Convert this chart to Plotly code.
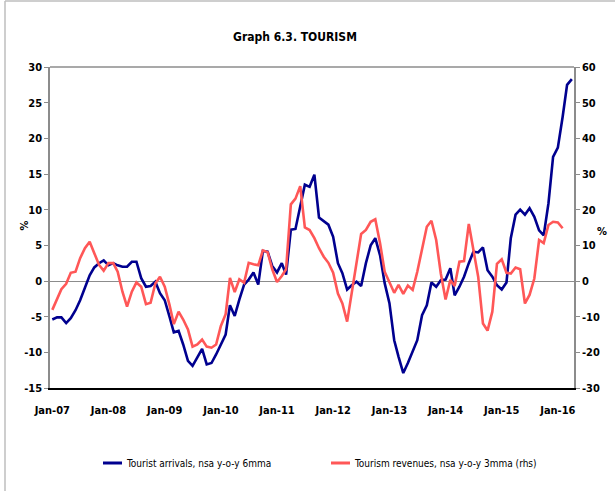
import plotly.graph_objects as go
import pandas as pd

# Monthly dates Jan-07 .. Apr-16
dates = pd.date_range("2007-01-01", "2016-04-01", freq="MS")

arrivals = [
    -5.4, -5.1, -5.1, -5.9, -5.2, -4.1, -2.7, -0.8, 0.8, 1.9, 2.5, 2.9,
    2.2, 2.5, 2.2, 2.0, 2.0, 2.7, 2.7, 0.4, -0.8, -0.7, -0.1, -1.7,
    -2.7, -5.0, -7.2, -7.0, -8.9, -11.2, -11.9, -10.7, -9.5, -11.7, -11.5, -10.3,
    -8.9, -7.5, -3.4, -4.9, -2.6, -0.5, 0.2, 1.2, -0.5, 4.2, 4.1, 2.1,
    1.2, 2.5, 0.9, 7.2, 7.3, 10.5, 13.5, 13.2, 14.9, 8.9, 8.4, 7.9,
    6.2, 2.5, 1.1, -1.2, -0.6, -0.1, -0.7, 2.5, 5.0, 6.0, 3.6, -0.3,
    -3.1, -8.3, -10.6, -12.9, -11.5, -9.9, -8.3, -4.8, -3.4, -0.2, -0.8, 0.1,
    0.2, 1.8, -2.0, -0.8, 0.6, 2.5, 4.1, 4.0, 4.7, 1.5, 0.6, -0.6,
    -1.2, -0.2, 6.0, 9.3, 10.0, 9.3, 10.2, 9.0, 7.1, 6.4, 10.9, 17.4,
    18.7, 23.0, 27.5, 28.3,
]

revenues = [
    -8.1, -4.9, -2.3, -0.8, 2.3, 2.6, 6.4, 9.2, 11.0, 7.8, 4.5, 2.9,
    5.0, 5.0, 2.6, -3.0, -7.2, -3.0, -0.4, -1.6, -6.5, -6.1, -0.7, 1.2,
    -1.6, -6.7, -12.1, -8.6, -10.8, -13.6, -18.4, -17.8, -16.4, -18.4, -18.7, -17.8,
    -12.6, -9.3, 0.9, -3.1, 0.5, -0.5, 5.1, 4.7, 4.4, 8.6, 8.1, 3.3,
    -0.3, 1.4, 3.3, 21.5, 23.1, 26.6, 15.0, 14.3, 12.0, 9.2, 6.8, 5.1,
    2.3, -3.5, -6.3, -11.4, -3.0, 5.0, 13.2, 14.3, 16.6, 17.3, 10.6, 2.6,
    -0.5, -3.3, -1.1, -3.6, -1.3, -2.5, 2.6, 8.7, 15.2, 16.9, 11.5, 2.1,
    -5.2, 0.3, -1.4, 5.4, 5.6, 16.0, 8.7, 1.2, -11.9, -13.9, -8.6, 4.8,
    6.1, 2.3, 2.1, 3.8, 3.3, -6.3, -3.9, 0.7, 11.5, 10.6, 15.7, 16.6,
    16.4, 14.8,
]

year_ticks = pd.date_range("2007-01-01", "2016-01-01", freq="YS")
year_labels = ["Jan-07", "Jan-08", "Jan-09", "Jan-10", "Jan-11",
               "Jan-12", "Jan-13", "Jan-14", "Jan-15", "Jan-16"]

left_ticks = [-15, -10, -5, 0, 5, 10, 15, 20, 25, 30]
right_ticks = [-30, -20, -10, 0, 10, 20, 30, 40, 50, 60]

series_names = ["Tourist arrivals, nsa y-o-y 6mma",
                "Tourism revenues, nsa y-o-y 3mma (rhs)"]
series_colors = ["#00008F", "#FF5757"]

FONT = "DejaVu Sans Condensed"

fig = go.Figure()
fig.add_trace(go.Scatter(
    x=dates[:len(arrivals)], y=arrivals, mode="lines", name=series_names[0],
    line=dict(color=series_colors[0], width=2.6), yaxis="y", showlegend=False,
))
fig.add_trace(go.Scatter(
    x=dates[:len(revenues)], y=revenues, mode="lines", name=series_names[1],
    line=dict(color=series_colors[1], width=2.6), yaxis="y2", showlegend=False,
))

PW, PH = 524, 321  # plot area size in px
L, B = 50, 388     # plot-area left / bottom in page px


def px(xp):
    return (xp - L) / PW


def py(yp):
    return (B - yp) / PH


fig.update_layout(
    width=615, height=491,
    margin=dict(l=50, r=41, t=67, b=103, autoexpand=False),
    paper_bgcolor="white", plot_bgcolor="white",
    font=dict(family=FONT, size=11, color="black"),
    title=dict(text="<b>Graph 6.3. TOURISM</b>", x=295 / 615, xanchor="center",
               y=1 - 37 / 491, yanchor="middle", yref="container",
               font=dict(family=FONT, size=12, color="black")),
    xaxis=dict(
        type="date", automargin=False,
        range=["2006-12-17", "2016-04-15"],
        tickvals=list(year_ticks), ticktext=[f"<b>{t}</b>" for t in year_labels],
        showgrid=False, zeroline=False,
        showline=True, linecolor="black", linewidth=1.5,
        ticks="", tickfont=dict(size=11), ticklabelstandoff=11,
    ),
    yaxis=dict(
        range=[-15, 30], tickvals=left_ticks, automargin=False,
        ticktext=[f"<b>{v}</b>" for v in left_ticks],
        showgrid=False, zeroline=True, zerolinecolor="#8C8C8C", zerolinewidth=1,
        showline=True, linecolor="#8C8C8C", linewidth=1.5,
        ticks="outside", ticklen=4, tickcolor="#8C8C8C",
        tickfont=dict(size=11),
    ),
    yaxis2=dict(
        range=[-30, 60], tickvals=right_ticks, automargin=False,
        ticktext=[f"<b>{v}</b>" for v in right_ticks],
        overlaying="y", side="right",
        showgrid=False, zeroline=False,
        showline=True, linecolor="#8C8C8C", linewidth=1.5,
        ticks="outside", ticklen=4, tickcolor="#8C8C8C",
        tickfont=dict(size=11),
    ),
)

# plot-area top border (gray)
fig.add_shape(type="line", xref="paper", yref="paper", x0=0, x1=1, y0=1, y1=1,
              line=dict(color="#8C8C8C", width=1.5))
# outer chart frame (left and top edges)
fig.add_shape(type="line", xref="paper", yref="paper",
              x0=px(5), x1=px(5), y0=py(491), y1=py(1),
              line=dict(color="#BEBEBE", width=1.5))
fig.add_shape(type="line", xref="paper", yref="paper",
              x0=px(5), x1=px(615), y0=py(1), y1=py(1),
              line=dict(color="#BEBEBE", width=1.5))

# axis "%" labels
fig.add_annotation(text="<b>%</b>", xref="paper", yref="paper",
                   x=px(15), y=py(226), showarrow=False, textangle=-90,
                   font=dict(size=11, family=FONT))
fig.add_annotation(text="<b>%</b>", xref="paper", yref="paper",
                   x=px(609), y=py(232), showarrow=False,
                   font=dict(size=11, family=FONT))

# legend (drawn as line sample + text)
legend_x = [103, 331]
legend_y = 463
for name, col, lx in zip(series_names, series_colors, legend_x):
    fig.add_shape(type="line", xref="paper", yref="paper",
                  x0=px(lx), x1=px(lx + 19), y0=py(legend_y), y1=py(legend_y),
                  line=dict(color=col, width=3))
    fig.add_annotation(text=name, xref="paper", yref="paper",
                       x=px(lx + 21), y=py(legend_y), xanchor="left", yanchor="middle",
                       showarrow=False, font=dict(size=10, family=FONT))

fig.write_html("out.html", config={"displayModeBar": False},
               post_script="document.body.style.margin='0';")
